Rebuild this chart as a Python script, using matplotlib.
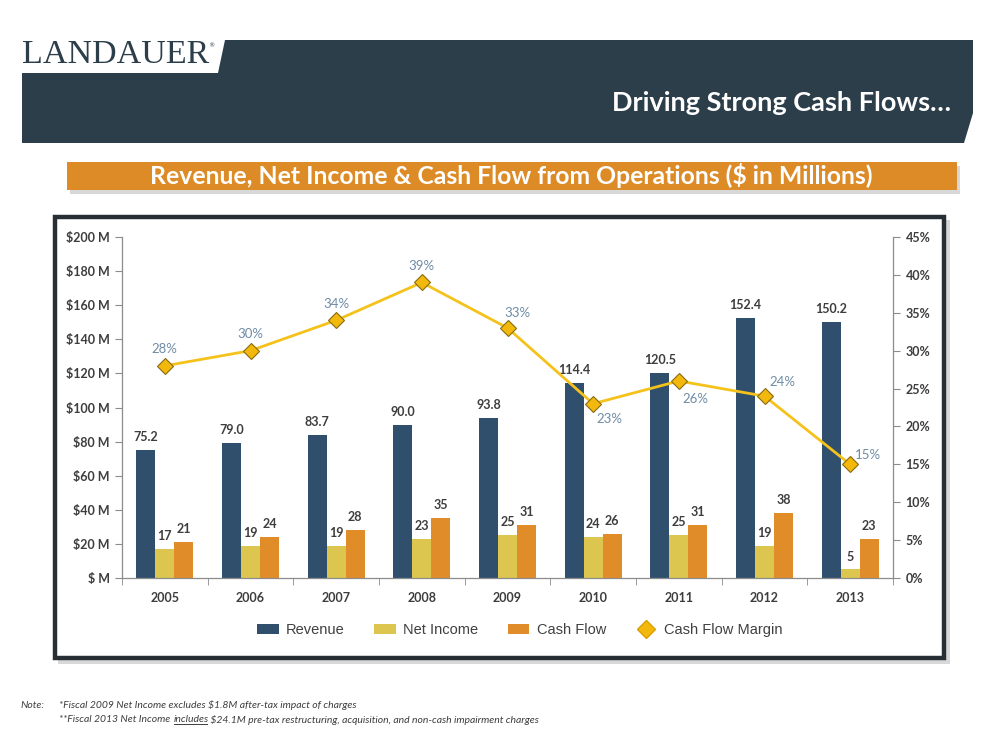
import numpy as np
import matplotlib
matplotlib.use("Agg")
import matplotlib.pyplot as plt
from matplotlib.patches import Polygon, Rectangle
from matplotlib.lines import Line2D

# data
years = ['2005', '2006', '2007', '2008', '2009', '2010', '2011', '2012', '2013']
revenue = [75.2, 79.0, 83.7, 90.0, 93.8, 114.4, 120.5, 152.4, 150.2]
net_income = [17, 19, 19, 23, 25, 24, 25, 19, 5]
cash_flow = [21, 24, 28, 35, 31, 26, 31, 38, 23]
margin = [28, 30, 34, 39, 33, 23, 26, 24, 15]
# where each margin label sits relative to its marker (points)
margin_offsets = [(0, 12), (0, 12), (0, 12), (0, 12), (7, 11),
                  (12, -11), (12, -13), (13, 10), (13, 7)]

DARK = '#2c3e4a'
ORANGE = '#dd8b27'
C_REV = '#2f4f6d'
C_NI = '#dcc64f'
C_CF = '#e08c29'
C_LINE = '#f4c21b'
TXT = '#3d3d3d'

W, H = 998, 739
fig = plt.figure(figsize=(W / 100, H / 100), dpi=100)

def px(x, y):
    return (x / W, 1 - y / H)

# header band
bg = fig.add_axes([0, 0, 1, 1])
bg.set_xlim(0, W)
bg.set_ylim(H, 0)
bg.axis('off')
bg.add_patch(Polygon([(22, 143), (22, 73), (218, 73), (225, 40), (973, 40),
                      (973, 113), (964, 143)], closed=True, color=DARK, lw=0))
bg.text(22, 63, 'LANDAUER', family='Liberation Serif', fontsize=24.5, color=DARK,
        va='baseline', ha='left')
bg.text(208, 46, '®', family='DejaVu Sans', fontsize=4.5, color=DARK, va='center')
bg.text(951, 103, 'Driving Strong Cash Flows…', family='Lato', weight='bold',
        fontsize=19.5, color='white', ha='right', va='center')

# orange banner with shadow
bg.add_patch(Rectangle((70, 166), 890, 28, color='#c8c8c8', lw=0, alpha=0.7))
bg.add_patch(Rectangle((67, 162), 890, 28, color=ORANGE, lw=0))
bg.text(511, 176, 'Revenue, Net Income & Cash Flow from Operations ($ in Millions)',
        family='Lato', weight='bold', fontsize=17.8, color='white',
        ha='center', va='center')

# chart panel
bg.add_patch(Rectangle((58, 220), 892, 444, color='#cfcfcf', lw=0, alpha=0.8))
bg.add_patch(Rectangle((55, 217), 889, 441, facecolor='white', edgecolor='#282f34', lw=3.2))

# notes
nfs = 7.5
bg.text(20, 705, 'Note:', family='Lato', style='italic', fontsize=nfs, color=TXT, va='center')
bg.text(59, 705, '*Fiscal 2009 Net Income excludes $1.8M after-tax impact of charges',
        family='Lato', style='italic', fontsize=nfs, color=TXT, va='center')
r = fig.canvas.get_renderer()
t1 = bg.text(59, 720, '**Fiscal 2013 Net Income', family='Lato', style='italic',
             fontsize=nfs, color=TXT, va='center')
bb = t1.get_window_extent(r)
t2 = bg.text(bb.x1 + 3, H - 720, 'includes', transform=None, family='Lato', style='italic',
             fontsize=nfs, color=TXT, va='center')
bb2 = t2.get_window_extent(r)
bg.add_line(Line2D([bb2.x0 + 1, bb2.x1 - 1], [bb2.y0 + 0.5, bb2.y0 + 0.5], transform=None,
                   color=TXT, lw=0.7))
bg.text(bb2.x1, H - 720, ' $24.1M pre-tax restructuring, acquisition, and non-cash impairment charges',
        transform=None, family='Lato', style='italic', fontsize=nfs, color=TXT, va='center')

# main chart
ax = fig.add_axes([122 / W, 1 - 578 / H, (893 - 122) / W, (578 - 237) / H])
x = np.arange(len(years))
bw = 0.222
b1 = ax.bar(x - bw, revenue, bw, color=C_REV, label='Revenue', zorder=2)
b2 = ax.bar(x, net_income, bw, color=C_NI, label='Net Income', zorder=2)
b3 = ax.bar(x + bw, cash_flow, bw, color=C_CF, label='Cash Flow', zorder=2)
ax.bar_label(b1, labels=[f'{v:.1f}' for v in revenue], padding=5, fontsize=9,
             color=TXT, family='Lato', weight='bold')
ax.bar_label(b2, labels=[f'{v}' for v in net_income], padding=5, fontsize=9,
             color=TXT, family='Lato', weight='bold')
ax.bar_label(b3, labels=[f'{v}' for v in cash_flow], padding=5, fontsize=9,
             color=TXT, family='Lato', weight='bold')

ax.set_xlim(-0.5, len(years) - 0.5)
ax.set_ylim(0, 200)
ax.set_yticks(np.arange(0, 201, 20))
ax.set_yticklabels(['$ M'] + [f'${v} M' for v in range(20, 201, 20)])
ax.set_xticks(x)
ax.set_xticklabels(years)
ax.set_xticks(np.arange(-0.5, len(years), 1), minor=True)
ax.tick_params(axis='x', which='major', length=0, pad=10)
ax.tick_params(axis='x', which='minor', length=5, color='#8c8c8c', direction='out')
ax.tick_params(axis='y', length=5, color='#8c8c8c', direction='out', pad=4)
for lab in ax.get_xticklabels() + ax.get_yticklabels():
    lab.set_family('Lato')
    lab.set_fontsize(9)
    lab.set_color(TXT)
    lab.set_weight('bold')
for s in ['top', 'right']:
    ax.spines[s].set_visible(False)
for s in ['left', 'bottom']:
    ax.spines[s].set_color('#8c8c8c')
    ax.spines[s].set_linewidth(0.9)

ax2 = ax.twinx()
ax2.set_ylim(0, 45)
ax2.set_yticks(np.arange(0, 46, 5))
ax2.set_yticklabels([f'{v}%' for v in range(0, 46, 5)])
ax2.tick_params(axis='y', length=5, color='#8c8c8c', direction='out', pad=4)
for lab in ax2.get_yticklabels():
    lab.set_family('Lato')
    lab.set_fontsize(9)
    lab.set_color(TXT)
    lab.set_weight('bold')
for s in ['top', 'left', 'bottom']:
    ax2.spines[s].set_visible(False)
ax2.spines['right'].set_color('#8c8c8c')
ax2.spines['right'].set_linewidth(0.9)
ax2.plot(x, margin, color=C_LINE, lw=2, marker='D', markersize=8,
         markerfacecolor='#f2b90c', markeredgecolor='#8a6a10', markeredgewidth=0.8,
         zorder=3)
for xi, m, off in zip(x, margin, margin_offsets):
    ax2.annotate(f'{m}%', (xi, m), xytext=off, textcoords='offset points',
                 ha='center', va='center', fontsize=9.5, color='#6f8ca6', family='Lato')

diamond = Line2D([], [], linestyle='none', marker='D', markersize=9,
                 markerfacecolor='#f2b90c', markeredgecolor='#d9a000', label='Cash Flow Margin')
leg = fig.legend(handles=[b1, b2, b3, diamond], loc='center', bbox_to_anchor=px(520, 630),
                 ncol=4, frameon=False, prop={'family': 'Liberation Sans', 'size': 10.5},
                 handlelength=1.5, handleheight=0.7, columnspacing=2.0, handletextpad=0.5)
for t in leg.get_texts():
    t.set_color('#404040')

fig.savefig('out.png', dpi=100)
